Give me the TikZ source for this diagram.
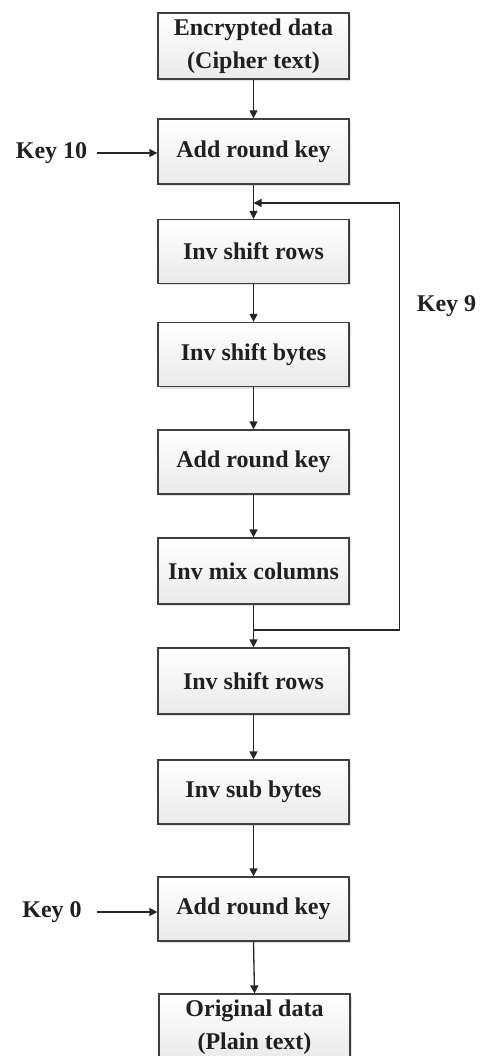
\documentclass[tikz,border=0pt]{standalone}
\usepackage{fontspec}
\setmainfont{Liberation Serif}
\usetikzlibrary{arrows.meta,shadows}
\definecolor{edge}{HTML}{3F3F3F}
\definecolor{txt}{HTML}{202020}
\definecolor{boxbot}{HTML}{EAEAEA}
\begin{document}
\begin{tikzpicture}[x=1pt,y=-1pt,
  stage/.style={draw=edge, line width=1.3pt, top color=white, bottom color=boxbot,
    minimum width=191pt, minimum height=64pt, inner sep=0pt, align=center,
    font=\fontsize{24}{33}\selectfont\bfseries, text=txt,
    drop shadow={shadow xshift=2pt, shadow yshift=-2pt, fill=black, opacity=0.12}},
  keylabel/.style={font=\fontsize{24}{28}\selectfont\bfseries, text=txt, inner sep=0pt},
  flow/.style={draw=black!85, line width=1.3pt, -{Triangle[length=8pt,width=8pt]}},
  wire/.style={draw=black!85, line width=1.3pt}]
\useasboundingbox (0,0) rectangle (484,1056);
\node[stage, minimum height=66pt] (b1) at (253.5,46) {Encrypted data\\(Cipher text)};
\node[stage, minimum height=65pt] (b2) at (253.5,151.5) {Add round key};
\node[stage] (b3) at (253.5,251.5) {Inv shift rows};
\node[stage] (b4) at (253.5,354.5) {Inv shift bytes};
\node[stage] (b5) at (253.5,462) {Add round key};
\node[stage, minimum height=66pt] (b6) at (253.5,571) {Inv mix columns};
\node[stage, minimum height=66pt] (b7) at (253.5,681) {Inv shift rows};
\node[stage] (b8) at (253.5,792) {Inv sub bytes};
\node[stage] (b9) at (253.5,909) {Add round key};
\node[stage, minimum height=66pt] (b10) at (254.5,1027) {Original data\\(Plain text)};
\node[keylabel] (k10) at (51.5,153) {Key 10};
\node[keylabel] (k9) at (446.5,306) {Key 9};
\node[keylabel] (k0) at (52,912) {Key 0};
\coordinate (j) at (253.5,630);
\coordinate (r1) at (399.5,630);
\coordinate (r2) at (399.5,203);
\coordinate (m) at (253.5,203);
\coordinate (k10e) at (97,153);
\coordinate (k0e) at (97,912);
\draw[flow] (b1) -- (b2);
\draw[flow] (b2) -- (b3);
\draw[flow] (b3) -- (b4);
\draw[flow] (b4) -- (b5);
\draw[flow] (b5) -- (b6);
\draw[flow] (b6) -- (b7);
\draw[flow] (b7) -- (b8);
\draw[flow] (b8) -- (b9);
\draw[flow] (b9.south) -- (b10.north);
\draw[flow] (k10e) -- (b2.west |- k10e);
\draw[flow] (k0e) -- (b9.west |- k0e);
\draw[wire, -{Triangle[length=8pt,width=8pt]}] (j) -- (r1) -- (r2) -- (m);
\end{tikzpicture}
\end{document}
